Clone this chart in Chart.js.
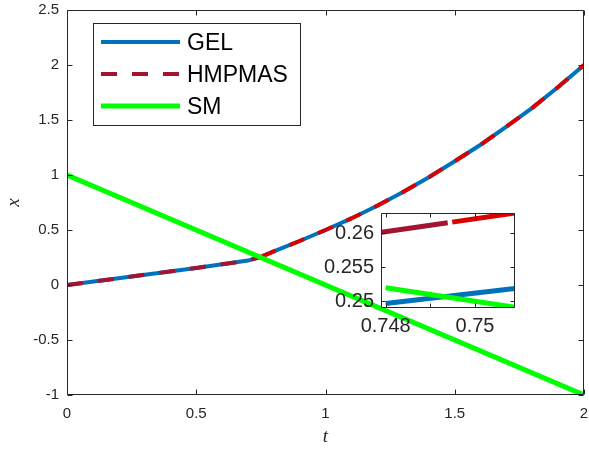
<!DOCTYPE html>
<html><head><meta charset="utf-8">
<script src="https://cdn.jsdelivr.net/npm/chart.js@4/dist/chart.umd.min.js"></script>
<style>
html,body{margin:0;padding:0;background:#fff;}
#wrap{position:relative;width:589px;height:452px;overflow:hidden;}
#main{position:absolute;left:0;top:0;}
#inset{position:absolute;left:300px;top:200px;}
</style></head><body>
<div id="wrap"><canvas id="main" width="589" height="452"></canvas><canvas id="inset" width="230" height="140"></canvas></div>
<script>
// ---- main plot data ----
const tGEL = [0, 0.25, 0.5, 0.7, 0.75, 0.8, 0.9, 1.0, 1.1, 1.2, 1.3, 1.4, 1.5, 1.6, 1.7, 1.8, 1.9, 2.0];
const xGEL = [0, 0.077, 0.155, 0.222, 0.255, 0.305, 0.40, 0.50, 0.605, 0.72, 0.845, 0.98, 1.125, 1.275, 1.44, 1.61, 1.80, 2.0];
const tHMPMAS1 = [0, 0.25, 0.5, 0.7, 0.75];
const xHMPMAS1 = [0, 0.077, 0.155, 0.222, 0.255];
const tHMPMAS2 = [0.75, 0.8, 0.9, 1.0, 1.1, 1.2, 1.3, 1.4, 1.5, 1.6, 1.7, 1.8, 1.9, 2.0];
const xHMPMAS2 = [0.255, 0.305, 0.40, 0.50, 0.605, 0.72, 0.845, 0.98, 1.125, 1.275, 1.44, 1.61, 1.80, 2.0];
const tSM = [0, 2];
const xSM = [1, -1];
const xTicks = [0, 0.5, 1, 1.5, 2];
const xTickLabels = ['0', '0.5', '1', '1.5', '2'];
const yTicks = [-1, -0.5, 0, 0.5, 1, 1.5, 2, 2.5];
const yTickLabels = ['-1', '-0.5', '0', '0.5', '1', '1.5', '2', '2.5'];

// ---- inset data ----
const tInGEL = [0.748, 0.75089];
const xInGEL = [0.24966, 0.25187];
const tInHMPMAS1 = [0.74791, 0.74939];
const xInHMPMAS1 = [0.26015, 0.26156];
const tInHMPMAS2 = [0.74949, 0.75089];
const xInHMPMAS2 = [0.26165, 0.26299];
const tInSM = [0.748, 0.75089];
const xInSM = [0.252, 0.24911];
const inXTicks = [0.748, 0.749, 0.75];
const inXTickLabels = ['0.748', '', '0.75'];
const inYTicks = [0.25, 0.255, 0.26];
const inYTickLabels = ['0.25', '0.255', '0.26'];

const BLUE = '#0072BD', DARKRED = '#A2142F', RED = '#D90000', GREEN = '#00FF00', AX = '#262626';
const SANS = "'Liberation Sans', Arial, sans-serif";
const pts = (ts, xs) => ts.map((t, i) => ({x: t, y: xs[i]}));

const framePlugin = {
  id: 'frame',
  beforeDatasetsDraw(chart, args, opts) {
    const {ctx, chartArea: a} = chart;
    ctx.save(); ctx.fillStyle = '#fff';
    ctx.fillRect(a.left, a.top, a.right - a.left, a.bottom - a.top);
    ctx.restore();
  },
  afterDatasetsDraw(chart, args, opts) {
    const {ctx, chartArea: a, scales: {x, y}} = chart;
    const L = Math.round(a.left) + 0.5, R = Math.round(a.right) - 0.5;
    const T = Math.round(a.top) + 0.5, B = Math.round(a.bottom) - 0.5;
    const tl = opts.tick || 5;
    ctx.save();
    ctx.strokeStyle = AX; ctx.lineWidth = 1; ctx.setLineDash([]);
    ctx.beginPath();
    ctx.rect(L, T, R - L, B - T);
    x.ticks.forEach(tk => {
      const p = Math.round(x.getPixelForValue(tk.value)) + 0.5;
      ctx.moveTo(p, B); ctx.lineTo(p, B - tl);
      ctx.moveTo(p, T); ctx.lineTo(p, T + tl);
    });
    y.ticks.forEach(tk => {
      const p = Math.round(y.getPixelForValue(tk.value)) + 0.5;
      ctx.moveTo(L, p); ctx.lineTo(L + tl, p);
      ctx.moveTo(R, p); ctx.lineTo(R - tl, p);
    });
    ctx.stroke();
    ctx.restore();
  }
};

const legendPlugin = {
  id: 'boxLegend',
  afterDatasetsDraw(chart) {
    const {ctx, chartArea: a} = chart;
    const x0 = a.left + 26, y0 = a.top + 13, w = 207, h = 102;
    ctx.save();
    ctx.fillStyle = '#fff'; ctx.fillRect(x0, y0, w, h);
    ctx.strokeStyle = AX; ctx.lineWidth = 1; ctx.strokeRect(x0 + 0.5, y0 + 0.5, w, h);
    const items = chart.data.datasets.filter(d => d.label);
    items.forEach((d, i) => {
      const cy = y0 + 19 + i * 32;
      ctx.beginPath();
      ctx.setLineDash(d.borderDash || []);
      ctx.strokeStyle = d.borderColor; ctx.lineWidth = d.borderWidth;
      ctx.moveTo(x0 + 8, cy); ctx.lineTo(x0 + 87, cy); ctx.stroke();
      ctx.setLineDash([]);
      ctx.fillStyle = '#000'; ctx.font = '23px ' + SANS; ctx.textBaseline = 'middle'; ctx.textAlign = 'left';
      ctx.fillText(d.label, x0 + 94, cy + 2);
    });
    ctx.restore();
  }
};

function axis(opts) {
  return {
    type: 'linear', min: opts.min, max: opts.max,
    afterBuildTicks: s => { s.ticks = opts.ticks.map(v => ({value: v})); },
    afterFit: s => {
      opts.fit(s);
      s.paddingLeft = 0; s.paddingRight = 0; s.paddingTop = 0; s.paddingBottom = 0;
    },
    grid: {display: false, drawTicks: false},
    border: {display: false},
    ticks: {padding: opts.pad, autoSkip: false, maxRotation: 0, color: AX,
      font: {family: SANS, size: opts.size}, callback: (v, i) => opts.labels[i]},
    title: opts.title || {display: false}
  };
}

Chart.defaults.devicePixelRatio = 1;

new Chart(document.getElementById('main'), {
  type: 'line',
  data: {
    datasets: [
      {label: 'GEL', data: pts(tGEL, xGEL), borderColor: BLUE, borderWidth: 4, pointRadius: 0, order: 3},
      {label: 'HMPMAS', data: pts(tHMPMAS1, xHMPMAS1), borderColor: DARKRED, borderWidth: 4, borderDash: [16, 15], pointRadius: 0, order: 2},
      {data: pts(tHMPMAS2, xHMPMAS2), borderColor: RED, borderWidth: 4, borderDash: [16, 15], pointRadius: 0, order: 2},
      {label: 'SM', data: pts(tSM, xSM), borderColor: GREEN, borderWidth: 5, pointRadius: 0, order: 1}
    ]
  },
  options: {
    responsive: false, animation: false, devicePixelRatio: 1,
    layout: {padding: {left: 0, right: 5, top: 10, bottom: 0}},
    plugins: {legend: {display: false}, tooltip: {enabled: false}, frame: {tick: 5}},
    scales: {
      x: axis({min: 0, max: 2, ticks: xTicks, labels: xTickLabels, pad: 10, size: 15,
        fit: s => { s.height = 57; },
        title: {display: true, text: 't', color: AX, font: {family: "'Liberation Serif', serif", size: 19, style: 'italic'}, padding: {top: 0, bottom: 4}}}),
      y: axis({min: -1, max: 2.5, ticks: yTicks, labels: yTickLabels, pad: 8, size: 15,
        fit: s => { s.width = 67; },
        title: {display: true, text: 'x', color: AX, font: {family: "'Liberation Serif', serif", size: 19, style: 'italic'}, padding: {top: 3, bottom: 0}}})
    }
  },
  plugins: [framePlugin, legendPlugin]
});

new Chart(document.getElementById('inset'), {
  type: 'line',
  data: {
    datasets: [
      {label: 'GEL', data: pts(tInGEL, xInGEL), borderColor: BLUE, borderWidth: 5, pointRadius: 0, order: 3},
      {label: 'HMPMAS', data: pts(tInHMPMAS1, xInHMPMAS1), borderColor: DARKRED, borderWidth: 5, pointRadius: 0, order: 2},
      {data: pts(tInHMPMAS2, xInHMPMAS2), borderColor: RED, borderWidth: 5, pointRadius: 0, order: 2},
      {label: 'SM', data: pts(tInSM, xInSM), borderColor: GREEN, borderWidth: 5, pointRadius: 0, order: 1}
    ]
  },
  options: {
    responsive: false, animation: false, devicePixelRatio: 1,
    layout: {padding: {left: 0, right: 15, top: 13, bottom: 0}},
    plugins: {legend: {display: false}, tooltip: {enabled: false}, frame: {tick: 4}},
    scales: {
      x: axis({min: 0.747895, max: 0.750896, ticks: inXTicks, labels: inXTickLabels, pad: 6, size: 20,
        fit: s => { s.height = 32; }}),
      y: axis({min: 0.24901, max: 0.26299, ticks: inYTicks, labels: inYTickLabels, pad: 7, size: 20,
        fit: s => { s.width = 81; }})
    }
  },
  plugins: [framePlugin]
});
</script></body></html>
